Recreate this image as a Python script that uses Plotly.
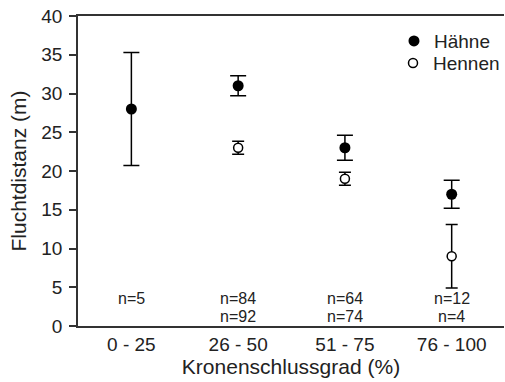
import plotly.graph_objects as go

categories = ["0 - 25", "26 - 50", "51 - 75", "76 - 100"]
haehne_mean = [28, 31, 23, 17]
haehne_err = [7.3, 1.3, 1.6, 1.8]
hennen_cats = ["26 - 50", "51 - 75", "76 - 100"]
hennen_mean = [23, 19, 9]
hennen_err = [0.85, 0.85, 4.1]
n_haehne = ["n=5", "n=84", "n=64", "n=12"]
n_hennen = ["", "n=92", "n=74", "n=4"]
y_ticks = [0, 5, 10, 15, 20, 25, 30, 35, 40]

FONT = "Liberation Sans, Arial, sans-serif"
TXT = "#222"

fig = go.Figure()
fig.add_trace(go.Scatter(
    x=categories, y=haehne_mean, mode="markers", name="Hähne", legend="legend",
    marker=dict(symbol="circle", size=11, color="black"),
    error_y=dict(type="data", array=haehne_err, color="black", thickness=1.5, width=8),
))
fig.add_trace(go.Scatter(
    x=hennen_cats, y=hennen_mean, mode="markers", name="Hennen", legend="legend2",
    marker=dict(symbol="circle", size=9, color="white", line=dict(color="black", width=1.5)),
    error_y=dict(type="data", array=hennen_err, color="black", thickness=1.5, width=6),
))

for c, a, b in zip(categories, n_haehne, n_hennen):
    fig.add_annotation(x=c, y=3.6, text=a, showarrow=False, font=dict(size=16, color=TXT, family=FONT))
    if b:
        fig.add_annotation(x=c, y=1.2, text=b, showarrow=False, font=dict(size=16, color=TXT, family=FONT))

leg_common = dict(xanchor="left", yanchor="middle",
                  font=dict(size=19, family=FONT, color=TXT),
                  bgcolor="rgba(0,0,0,0)", itemsizing="trace")
fig.update_layout(
    width=505, height=382,
    margin=dict(l=78, r=0, t=16, b=56),
    plot_bgcolor="white", paper_bgcolor="white",
    font=dict(family=FONT, color=TXT),
    showlegend=True,
    legend=dict(x=0.740, y=0.919, **leg_common),
    legend2=dict(x=0.740, y=0.848, **leg_common),
)
fig.update_xaxes(
    type="category", categoryorder="array", categoryarray=categories,
    range=[-0.5, 3.49], showline=True, linecolor="#333", linewidth=1.5, mirror=True,
    ticks="", showgrid=False, zeroline=False,
    tickfont=dict(size=19, family=FONT, color=TXT),
    title=dict(text="Kronenschlussgrad (%)", font=dict(size=21, family=FONT, color=TXT), standoff=1),
)
fig.update_yaxes(
    range=[0, 40], tickvals=y_ticks, showline=True, linecolor="#333", linewidth=1.5,
    ticks="outside", ticklen=7, tickcolor="#333", tickwidth=1.5,
    ticklabelstandoff=3,
    showgrid=False, zeroline=False,
    tickfont=dict(size=19, family=FONT, color=TXT),
    title=dict(text="Fluchtdistanz (m)", font=dict(size=21, family=FONT, color=TXT), standoff=9),
)

fig.write_html("out.html")
